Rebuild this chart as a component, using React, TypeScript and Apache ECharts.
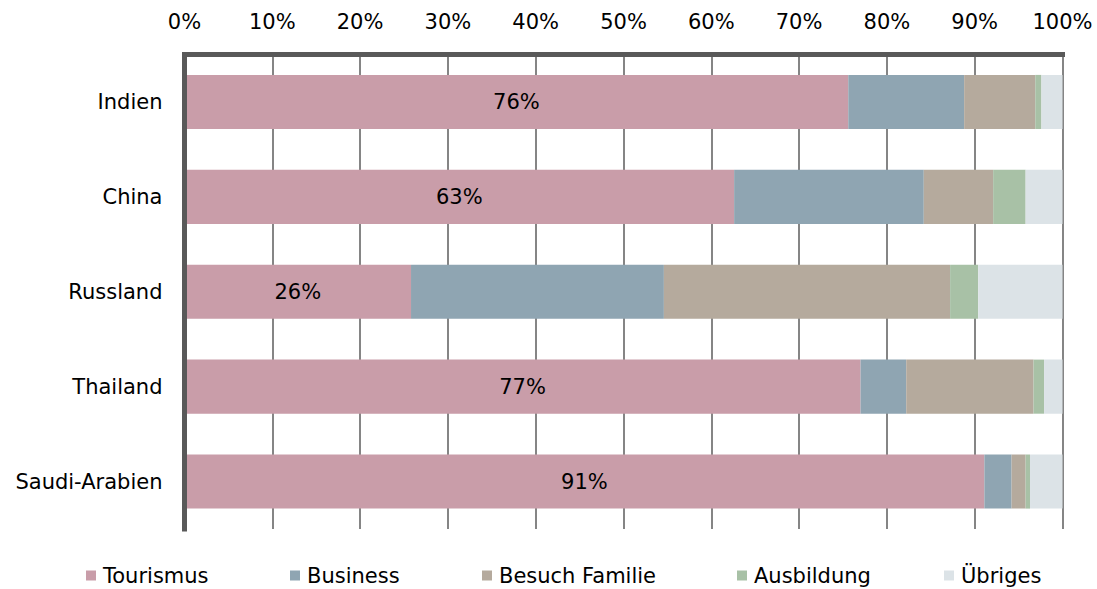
import React, { useEffect, useRef } from "react";
import * as echarts from "echarts";

const categories = ["Indien", "China", "Russland", "Thailand", "Saudi-Arabien"];
const seriesNames = ["Tourismus", "Business", "Besuch Familie", "Ausbildung", "Übriges"];
const tourismus = [75.6, 62.6, 25.8, 77.0, 91.1];
const business = [13.2, 21.6, 28.8, 5.2, 3.1];
const besuchFamilie = [8.1, 7.9, 32.6, 14.5, 1.6];
const ausbildung = [0.7, 3.7, 3.2, 1.2, 0.5];
const uebriges = [2.4, 4.2, 9.6, 2.1, 3.7];
const colors = ["#C99DA9", "#8FA5B2", "#B5AA9D", "#A8C1A6", "#DCE3E7"];
const legendLeft = [81, 285, 477, 732, 939];

const FONT = "DejaVu Sans";

export default function App() {
  const ref = useRef<HTMLDivElement>(null);
  useEffect(() => {
    if (!ref.current) return;
    const chart = echarts.init(ref.current, null, { renderer: "svg" });
    const values = [tourismus, business, besuchFamilie, ausbildung, uebriges];
    chart.setOption({
      animation: false,
      grid: { left: 184.5, right: 34.5, top: 54.5, bottom: 60 },
      legend: seriesNames.map((name, i) => ({
        data: [name],
        left: legendLeft[i],
        top: 560,
        itemWidth: 10,
        itemHeight: 10,
        icon: "rect",
        textStyle: { fontFamily: FONT, fontSize: 21, color: "#000", padding: [0, 0, 0, 2] },
      })),
      xAxis: {
        type: "value",
        position: "top",
        min: 0,
        max: 100,
        interval: 10,
        axisLine: { show: true, onZero: false, lineStyle: { color: "#595959", width: 5, cap: "square" } },
        axisTick: { show: false },
        axisLabel: { formatter: "{value}%", fontFamily: FONT, fontSize: 21, color: "#000", margin: 22 },
        splitLine: { show: true, lineStyle: { color: "#858585", width: 2 } },
      },
      yAxis: {
        type: "category",
        data: categories,
        inverse: true,
        z: 10,
        axisLine: { show: true, lineStyle: { color: "#595959", width: 5, cap: "square" } },
        axisTick: { show: false },
        axisLabel: { fontFamily: FONT, fontSize: 21, color: "#000", margin: 22 },
        splitLine: { show: false },
      },
      series: seriesNames.map((name, i) => ({
        name,
        type: "bar",
        stack: "total",
        data: values[i],
        barCategoryGap: "43%",
        itemStyle: { color: colors[i] },
        label:
          i === 0
            ? {
                show: true,
                position: "inside",
                formatter: (p: any) => Math.round(p.value) + "%",
                fontFamily: FONT,
                fontSize: 21,
                color: "#000",
              }
            : { show: false },
      })),
    });
    return () => chart.dispose();
  }, []);
  return (
    <div
      ref={ref}
      style={{ position: "fixed", left: 0, top: 0, width: 1097, height: 589, background: "#fff" }}
    />
  );
}
